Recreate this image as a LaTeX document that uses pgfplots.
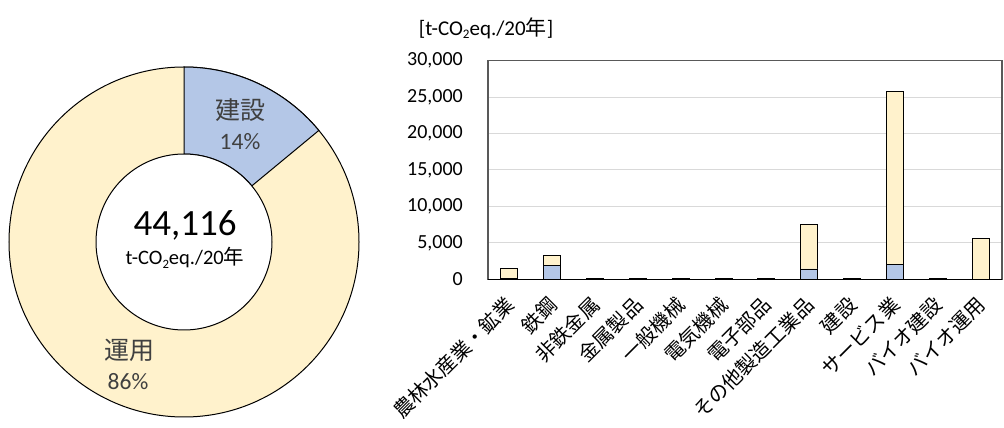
\documentclass[border=0pt]{standalone}
\usepackage{fontspec}
\setmainfont{Carlito}
\newfontfamily\jp{Noto Sans CJK JP}
\usepackage{pgfplots}
\pgfplotsset{compat=1.18}
\usepackage{pgfplotstable}
\usetikzlibrary{calc}

\definecolor{buildblue}{HTML}{B4C7E7}
\definecolor{operyellow}{HTML}{FFF2CC}
\definecolor{gridgray}{HTML}{D9D9D9}
\definecolor{framegray}{HTML}{595959}
\definecolor{labelgray}{HTML}{404040}

% unit string t-CO2eq./20年
\newcommand{\unitstr}{t-CO\raisebox{-0.35ex}{\scalebox{0.62}{2}}eq./20{\jp 年}}

% life-cycle totals [t-CO2eq./20 years]
\def\buildtotal{6176}
\def\opertotal{37940}
\edef\splitangle{\fpeval{round(90-360*\buildtotal/(\buildtotal+\opertotal),3)}}

% emissions by sector: construction / operation
\pgfplotstableread{
idx build oper
0   100   1330
1   1920  1290
2   60    40
3   60    40
4   60    40
5   60    40
6   60    40
7   1420  6135
8   60    40
9   2060  23670
10  60    40
11  0     5590
}\sectordata

\begin{document}
\begin{tikzpicture}
\path[use as bounding box] (0,0) rectangle (1004pt,428pt);

% donut: construction vs operation
\begin{axis}[at={(184pt,186pt)}, anchor=origin, x=1pt, y=1pt,
  xmin=-180, xmax=180, ymin=-180, ymax=180, hide axis, clip=false]
  \filldraw[fill=operyellow, draw=black, line width=1pt] (axis cs:0,0) circle[radius=175pt];
  \filldraw[fill=buildblue, draw=black, line width=1pt]
    ($(axis cs:0,0)+(90:175pt)$) arc[start angle=90, end angle=\splitangle, radius=175pt]
    -- ($(axis cs:0,0)+(\splitangle:88pt)$) arc[start angle=\splitangle, end angle=90, radius=88pt]
    -- cycle;
  \filldraw[fill=white, draw=black, line width=1pt] (axis cs:0,0) circle[radius=88pt];
  \node[font=\jp\fontsize{25}{25}\selectfont, text=labelgray] at (axis cs:56,132) {建設};
  \node[font=\fontsize{23.5}{23.5}\selectfont, text=labelgray] at (axis cs:56,100) {14\%};
  \node[font=\jp\fontsize{25}{25}\selectfont, text=labelgray] at (axis cs:-55,-108) {運用};
  \node[font=\fontsize{23.5}{23.5}\selectfont, text=labelgray] at (axis cs:-56,-140) {86\%};
  \node[font=\fontsize{37}{37}\selectfont] at (axis cs:1,17) {44,116};
  \node[font=\fontsize{20.5}{20.5}\selectfont] at (axis cs:1,-16) {\unitstr};
\end{axis}

% unit label above the bar chart
\node[font=\fontsize{21}{21}\selectfont] at (486pt,400pt) {[\unitstr]};

% stacked bars by sector
\begin{axis}[at={(488pt,148.7pt)}, anchor=south west, scale only axis,
  width=514pt, height=218.6pt,
  ybar stacked, bar width=17pt,
  xmin=-0.5, xmax=11.5, ymin=0, ymax=30000,
  xtick={0,...,11},
  xticklabels={農林水産業・鉱業, 鉄鋼, 非鉄金属, 金属製品, 一般機械, 電気機械, 電子部品, その他製造工業品, 建設, サービス業, バイオ建設, バイオ運用},
  ytick={0,5000,...,30000}, scaled y ticks=false,
  ymajorgrids, grid style={gridgray, line width=1pt},
  major tick length=0pt,
  axis line style={framegray, line width=1.2pt},
  yticklabel style={font=\fontsize{20}{20}\selectfont, anchor=east, inner sep=0pt, xshift=-25pt,
    /pgf/number format/.cd, fixed, 1000 sep={,}, assume math mode=true},
  xticklabel style={font=\jp\fontsize{20}{20}\selectfont, xshift=1pt, yshift=-22pt, rotate=45, anchor=east, inner sep=0pt},
  ]
  \addplot[fill=buildblue, draw=black, line width=0.9pt] table[x=idx, y=build]{\sectordata};
  \addplot[fill=operyellow, draw=black, line width=0.9pt] table[x=idx, y=oper]{\sectordata};
  \draw[black, line width=1.2pt] (rel axis cs:0,0) -- (rel axis cs:1,0);
\end{axis}
\end{tikzpicture}
\end{document}
